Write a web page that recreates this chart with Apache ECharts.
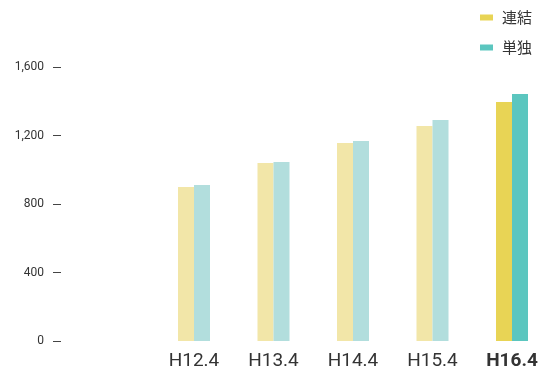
<!DOCTYPE html>
<html>
<head>
<meta charset="utf-8">
<script src="https://cdn.jsdelivr.net/npm/echarts@6/dist/echarts.min.js"></script>
<style>
  html, body { margin: 0; padding: 0; background: #fff; }
  #chart { width: 541px; height: 371px; }
</style>
</head>
<body>
<div id="chart"></div>
<script>
// Fiscal year-ends (Heisei) on the horizontal axis
const categories = ['H12.4', 'H13.4', 'H14.4', 'H15.4', 'H16.4'];
// Consolidated and non-consolidated figures
const consolidated = [899, 1039, 1156, 1255, 1396];
const standalone = [911, 1045, 1168, 1290, 1442];
const yTicks = [0, 400, 800, 1200, 1600];

const seriesNames = ['連結', '単独'];
const strongColors = ['#e8d455', '#5bc6bf'];
const paleColors = ['#f2e6a8', '#b2dedd'];
const latest = categories.length - 1;

function styled(values, idx) {
  return values.map((v, i) => ({
    value: v,
    itemStyle: { color: i === latest ? strongColors[idx] : paleColors[idx] }
  }));
}

const chart = echarts.init(document.getElementById('chart'), null, { renderer: 'canvas' });
chart.setOption({
  animation: false,
  backgroundColor: '#ffffff',
  textStyle: { fontFamily: 'Roboto, "Noto Sans CJK JP", sans-serif' },
  grid: { left: 194, right: 29, top: 67, bottom: 30, containLabel: false },
  legend: {
    orient: 'vertical',
    left: 475,
    top: 4,
    icon: 'rect',
    itemWidth: 13,
    itemHeight: 6,
    itemGap: 13,
    data: seriesNames,
    textStyle: {
      fontFamily: '"Noto Sans CJK JP", sans-serif',
      fontSize: 15,
      lineHeight: 17,
      color: '#333',
      padding: [0, 0, 0, 4]
    }
  },
  xAxis: {
    type: 'category',
    data: categories,
    boundaryGap: false,
    axisLine: { show: false },
    axisTick: { show: false },
    axisLabel: {
      interval: 0,
      hideOverlap: false,
      margin: 11,
      fontSize: 19,
      color: '#333',
      fontFamily: 'Roboto, sans-serif',
      formatter: (v, i) => i === latest ? '{b|' + v + '}' : v,
      rich: {
        b: { fontSize: 19, fontWeight: 'bold', color: '#333', fontFamily: 'Roboto, sans-serif' }
      }
    }
  },
  yAxis: {
    type: 'value',
    min: yTicks[0],
    max: yTicks[yTicks.length - 1],
    interval: yTicks[1] - yTicks[0],
    offset: 133,
    axisLine: { show: false },
    axisTick: { show: true, length: 8, lineStyle: { color: '#444', width: 1 } },
    splitLine: { show: false },
    axisLabel: {
      margin: 17,
      fontSize: 12,
      color: '#333',
      fontFamily: 'Roboto, sans-serif',
      formatter: v => v.toLocaleString('en-US')
    }
  },
  series: [
    {
      name: seriesNames[0],
      type: 'bar',
      barWidth: 16,
      barGap: '0%',
      itemStyle: { color: strongColors[0] },
      data: styled(consolidated, 0)
    },
    {
      name: seriesNames[1],
      type: 'bar',
      barWidth: 16,
      barGap: '0%',
      itemStyle: { color: strongColors[1] },
      data: styled(standalone, 1)
    }
  ]
});
</script>
</body>
</html>
